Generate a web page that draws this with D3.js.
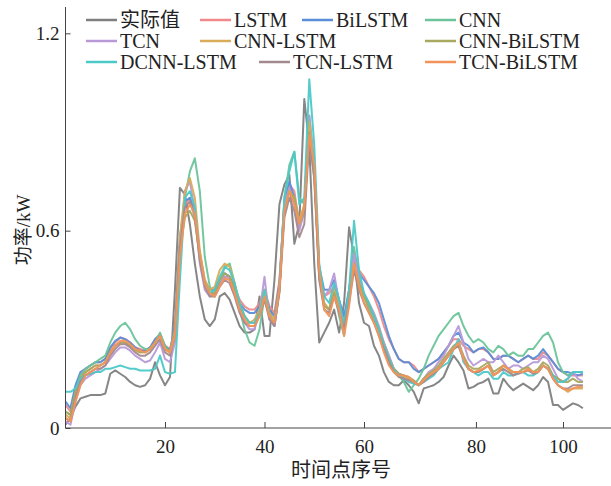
<!DOCTYPE html>
<html><head><meta charset="utf-8">
<script src="https://cdn.jsdelivr.net/npm/d3@7"></script>
<style>
html,body{margin:0;padding:0;background:#fff;}
svg{display:block;}
text{font-family:"Liberation Serif","Noto Sans CJK SC",serif;fill:#222;}
</style></head>
<body><svg id="c" width="611" height="486"></svg>
<script>
const seriesNames = ["实际值","LSTM","BiLSTM","CNN","TCN","CNN-LSTM","CNN-BiLSTM","DCNN-LSTM","TCN-LSTM","TCN-BiLSTM"];
const seriesColors = ["#7f7f7f","#f08a8a","#5b8ed8","#6cc49a","#b89ad8","#d8ac5a","#a9a860","#4cc8c8","#a48a8e","#f3935a"];
const xTickValues = [20,40,60,82.5,100];
const xTickLabels = ["20","40","60","80","100"];
const yTickValues = [0,0.6,1.2];
const yTickLabels = ["0","0.6","1.2"];
const xLabel = "时间点序号";
const yLabel = "功率/kW";

const actual = [0.01,0.03,0.065,0.09,0.095,0.10,0.10,0.10,0.105,0.165,0.175,0.165,0.155,0.14,0.13,0.125,0.13,0.15,0.2,0.16,0.13,0.155,0.42,0.73,0.71,0.62,0.5,0.40,0.33,0.31,0.33,0.40,0.41,0.39,0.35,0.31,0.29,0.29,0.30,0.40,0.28,0.28,0.45,0.68,0.74,0.77,0.56,0.62,1.0,0.86,0.50,0.26,0.29,0.32,0.36,0.29,0.38,0.61,0.52,0.38,0.32,0.31,0.25,0.22,0.17,0.14,0.13,0.13,0.145,0.13,0.11,0.075,0.12,0.125,0.13,0.14,0.155,0.19,0.22,0.2,0.175,0.12,0.125,0.135,0.14,0.15,0.105,0.105,0.15,0.13,0.115,0.125,0.135,0.125,0.115,0.13,0.155,0.14,0.07,0.07,0.055,0.065,0.075,0.07,0.06];
const lstm = [0.07,0.05,0.12,0.16,0.18,0.19,0.2,0.2,0.21,0.24,0.26,0.275,0.27,0.26,0.245,0.24,0.235,0.245,0.27,0.28,0.25,0.24,0.3,0.56,0.68,0.70,0.66,0.53,0.45,0.42,0.42,0.44,0.46,0.46,0.43,0.39,0.37,0.36,0.36,0.38,0.42,0.37,0.35,0.45,0.68,0.74,0.72,0.62,0.66,0.9,0.78,0.48,0.40,0.41,0.43,0.38,0.33,0.42,0.52,0.48,0.46,0.43,0.4,0.36,0.31,0.27,0.24,0.21,0.2,0.2,0.19,0.17,0.18,0.19,0.2,0.21,0.23,0.25,0.27,0.27,0.25,0.24,0.23,0.24,0.24,0.23,0.21,0.21,0.22,0.22,0.21,0.2,0.21,0.22,0.21,0.21,0.23,0.22,0.2,0.18,0.17,0.16,0.16,0.16,0.16];
const bilstm = [0.08,0.06,0.13,0.17,0.18,0.19,0.2,0.2,0.21,0.245,0.265,0.275,0.27,0.26,0.245,0.235,0.235,0.245,0.27,0.285,0.25,0.235,0.31,0.58,0.69,0.70,0.65,0.52,0.44,0.42,0.42,0.45,0.47,0.46,0.42,0.38,0.36,0.35,0.35,0.37,0.42,0.36,0.34,0.44,0.69,0.75,0.70,0.61,0.66,0.91,0.79,0.49,0.42,0.42,0.45,0.39,0.34,0.42,0.53,0.47,0.45,0.43,0.41,0.38,0.33,0.28,0.24,0.21,0.2,0.2,0.18,0.17,0.18,0.19,0.2,0.21,0.23,0.25,0.28,0.29,0.26,0.25,0.23,0.24,0.245,0.23,0.21,0.21,0.22,0.22,0.21,0.2,0.21,0.22,0.21,0.22,0.24,0.22,0.2,0.18,0.17,0.17,0.165,0.16,0.165];
const cnn = [0.05,0.04,0.11,0.16,0.18,0.19,0.2,0.21,0.22,0.26,0.29,0.31,0.32,0.3,0.27,0.25,0.24,0.24,0.26,0.29,0.25,0.23,0.28,0.52,0.70,0.78,0.82,0.72,0.52,0.43,0.40,0.44,0.49,0.50,0.44,0.36,0.30,0.26,0.25,0.30,0.40,0.34,0.31,0.42,0.70,0.80,0.84,0.70,0.68,0.95,0.80,0.46,0.38,0.36,0.42,0.34,0.28,0.40,0.55,0.46,0.40,0.36,0.33,0.3,0.26,0.22,0.18,0.16,0.14,0.11,0.13,0.15,0.18,0.22,0.25,0.28,0.3,0.32,0.34,0.35,0.31,0.28,0.26,0.27,0.26,0.24,0.23,0.25,0.24,0.22,0.23,0.22,0.22,0.24,0.24,0.26,0.28,0.29,0.26,0.2,0.17,0.16,0.17,0.17,0.17];
const tcn = [0.02,0.01,0.08,0.13,0.15,0.16,0.17,0.18,0.19,0.21,0.23,0.245,0.245,0.235,0.22,0.21,0.2,0.205,0.23,0.26,0.21,0.2,0.26,0.55,0.72,0.75,0.66,0.50,0.42,0.40,0.41,0.44,0.46,0.45,0.41,0.36,0.32,0.30,0.30,0.35,0.46,0.33,0.31,0.42,0.68,0.73,0.68,0.60,0.66,0.95,0.80,0.46,0.40,0.42,0.47,0.38,0.29,0.40,0.53,0.45,0.41,0.38,0.35,0.31,0.26,0.22,0.18,0.165,0.16,0.15,0.14,0.13,0.15,0.17,0.18,0.2,0.22,0.25,0.28,0.31,0.26,0.21,0.19,0.2,0.21,0.2,0.2,0.22,0.2,0.18,0.19,0.19,0.18,0.19,0.2,0.2,0.22,0.21,0.18,0.15,0.14,0.15,0.17,0.15,0.14];
const cnnLstm = [0.04,0.03,0.1,0.15,0.17,0.18,0.19,0.19,0.2,0.23,0.25,0.26,0.26,0.25,0.235,0.23,0.23,0.24,0.26,0.28,0.24,0.23,0.3,0.58,0.72,0.76,0.70,0.54,0.45,0.42,0.43,0.48,0.50,0.49,0.44,0.38,0.34,0.32,0.33,0.36,0.42,0.35,0.33,0.43,0.66,0.72,0.70,0.63,0.68,0.93,0.78,0.47,0.38,0.36,0.42,0.37,0.31,0.40,0.50,0.44,0.40,0.37,0.34,0.3,0.25,0.2,0.17,0.16,0.155,0.15,0.14,0.13,0.15,0.16,0.17,0.18,0.2,0.22,0.24,0.25,0.21,0.18,0.17,0.17,0.18,0.19,0.16,0.17,0.19,0.18,0.16,0.17,0.17,0.18,0.17,0.17,0.19,0.18,0.15,0.13,0.12,0.11,0.12,0.12,0.12];
const cnnBilstm = [0.05,0.04,0.11,0.15,0.17,0.18,0.19,0.19,0.2,0.23,0.25,0.26,0.26,0.25,0.24,0.23,0.23,0.24,0.26,0.28,0.24,0.23,0.29,0.54,0.64,0.66,0.63,0.52,0.44,0.41,0.41,0.45,0.47,0.46,0.42,0.37,0.34,0.32,0.32,0.35,0.40,0.34,0.32,0.42,0.66,0.72,0.70,0.62,0.66,0.90,0.76,0.46,0.37,0.36,0.41,0.36,0.31,0.40,0.49,0.44,0.40,0.37,0.34,0.3,0.25,0.21,0.18,0.165,0.16,0.155,0.145,0.13,0.15,0.165,0.175,0.19,0.21,0.23,0.25,0.26,0.22,0.19,0.18,0.18,0.19,0.2,0.17,0.18,0.19,0.18,0.17,0.17,0.18,0.185,0.17,0.18,0.2,0.19,0.16,0.15,0.14,0.14,0.15,0.14,0.14];
const dcnnLstm = [0.11,0.11,0.12,0.15,0.16,0.165,0.17,0.17,0.18,0.18,0.185,0.19,0.185,0.18,0.18,0.175,0.175,0.175,0.18,0.22,0.17,0.165,0.17,0.45,0.70,0.72,0.67,0.52,0.44,0.41,0.42,0.46,0.49,0.48,0.44,0.38,0.34,0.32,0.32,0.35,0.42,0.34,0.32,0.42,0.70,0.78,0.84,0.68,0.70,1.06,0.86,0.50,0.40,0.38,0.44,0.39,0.31,0.42,0.63,0.48,0.41,0.38,0.34,0.3,0.25,0.21,0.175,0.16,0.15,0.14,0.135,0.13,0.14,0.15,0.16,0.18,0.19,0.2,0.24,0.27,0.2,0.18,0.17,0.16,0.17,0.17,0.15,0.15,0.17,0.16,0.16,0.17,0.17,0.16,0.16,0.17,0.19,0.18,0.16,0.14,0.14,0.15,0.17,0.17,0.17];
const tcnLstm = [0.03,0.02,0.09,0.14,0.16,0.17,0.18,0.18,0.19,0.22,0.24,0.255,0.255,0.245,0.23,0.22,0.22,0.23,0.25,0.27,0.23,0.22,0.28,0.55,0.67,0.69,0.64,0.51,0.43,0.40,0.40,0.43,0.45,0.44,0.40,0.35,0.32,0.31,0.31,0.34,0.39,0.33,0.31,0.41,0.64,0.70,0.66,0.58,0.62,0.88,0.76,0.45,0.36,0.35,0.40,0.35,0.30,0.38,0.48,0.42,0.38,0.35,0.32,0.28,0.24,0.2,0.17,0.155,0.15,0.145,0.14,0.13,0.14,0.155,0.165,0.18,0.2,0.22,0.24,0.25,0.21,0.18,0.17,0.17,0.18,0.19,0.16,0.17,0.18,0.17,0.16,0.165,0.17,0.175,0.165,0.17,0.19,0.18,0.15,0.13,0.12,0.12,0.13,0.13,0.13];
const tcnBilstm = [0.03,0.02,0.08,0.13,0.16,0.17,0.18,0.19,0.2,0.23,0.25,0.265,0.265,0.255,0.24,0.235,0.23,0.24,0.26,0.28,0.24,0.23,0.28,0.52,0.65,0.68,0.65,0.53,0.44,0.41,0.40,0.43,0.455,0.45,0.41,0.36,0.33,0.31,0.31,0.34,0.40,0.34,0.32,0.42,0.66,0.72,0.68,0.62,0.67,0.89,0.80,0.48,0.36,0.34,0.40,0.36,0.28,0.37,0.50,0.43,0.38,0.35,0.32,0.28,0.23,0.19,0.17,0.16,0.16,0.155,0.14,0.13,0.145,0.16,0.17,0.18,0.2,0.22,0.24,0.26,0.21,0.18,0.17,0.175,0.18,0.19,0.16,0.17,0.19,0.18,0.17,0.17,0.17,0.18,0.17,0.17,0.19,0.18,0.15,0.13,0.12,0.115,0.12,0.125,0.125];

const seriesValues = [actual,lstm,bilstm,cnn,tcn,cnnLstm,cnnBilstm,dcnnLstm,tcnLstm,tcnBilstm];

const svg = d3.select("#c");
const x = d3.scaleLinear().domain([0,109.65]).range([65.5,611]);
const y = d3.scaleLinear().domain([0,1.28]).range([428,7]);

// lines
const line = d3.line().x((d,i)=>x(i)).y(d=>y(d));
const g = svg.append("g");
seriesValues.forEach((vals,k)=>{
  g.append("path").datum(vals).attr("d",line)
   .attr("fill","none").attr("stroke",seriesColors[k])
   .attr("stroke-width",2).attr("stroke-linejoin","round").attr("stroke-opacity",0.95);
});

// axes
const xAxis = d3.axisBottom(x).tickValues(xTickValues)
  .tickFormat((d,i)=>xTickLabels[i]).tickSizeInner(-6).tickSizeOuter(0).tickPadding(12);
const ax = svg.append("g").attr("transform","translate(0,428)").call(xAxis);
ax.select(".domain").attr("stroke","#444").attr("d","M65.5,0H611");
ax.selectAll(".tick line").attr("stroke","#444");
ax.selectAll("text").attr("font-size",19).attr("font-family","Liberation Serif").attr("fill","#222");

const yAxis = d3.axisLeft(y).tickValues(yTickValues)
  .tickFormat((d,i)=>yTickLabels[i]).tickSizeInner(-5).tickSizeOuter(0).tickPadding(6);
const ay = svg.append("g").attr("transform","translate(65.5,0)").call(yAxis);
ay.select(".domain").attr("stroke","#444").attr("d","M0,7V428");
ay.selectAll(".tick line").attr("stroke","#444");
ay.selectAll("text").attr("font-size",19).attr("font-family","Liberation Serif").attr("fill","#222");

// axis labels
svg.append("text").attr("x",341).attr("y",477).attr("text-anchor","middle")
  .attr("font-size",20).text(xLabel);
svg.append("text").attr("transform","translate(30,230) rotate(-90)").attr("text-anchor","middle")
  .attr("font-size",19).text(yLabel);

// legend
const legendX = [86,200,302,425, 86,200,425, 86,259,425];
const legendRow = [0,0,0,0, 1,1,1, 2,2,2];
const rowY = [20,41,62];
const lg = svg.append("g");
seriesNames.forEach((name,k)=>{
  const lx = legendX[k], ly = rowY[legendRow[k]];
  lg.append("line").attr("x1",lx).attr("x2",lx+31).attr("y1",ly).attr("y2",ly)
    .attr("stroke",seriesColors[k]).attr("stroke-width",2.5);
  lg.append("text").attr("x",lx+34).attr("y",ly).attr("dy","0.35em")
    .attr("font-size",20).text(name);
});
</script></body></html>
